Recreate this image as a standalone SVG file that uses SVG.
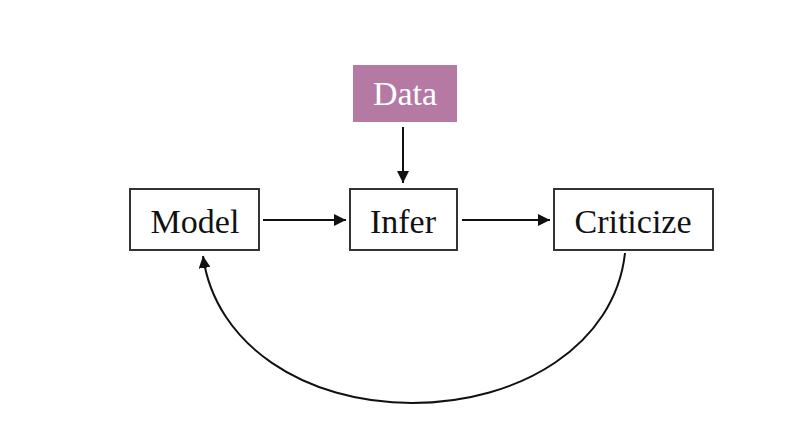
<svg xmlns="http://www.w3.org/2000/svg" width="800" height="426" viewBox="0 0 800 426">
<style>
.box{fill:#fff;stroke:#333;stroke-width:2}
.lbl{font-family:"Liberation Serif","DejaVu Serif",serif;font-size:34px;fill:#111;text-anchor:middle}
.edge{fill:none;stroke:#111;stroke-width:2}
</style>
<defs>
<marker id="ah" viewBox="0 0 10 10" refX="10" refY="5" markerWidth="12" markerHeight="12" markerUnits="userSpaceOnUse" orient="auto">
<path d="M0,0 L10,5 L0,10 z" fill="#111"/>
</marker>
</defs>
<rect width="800" height="426" fill="#fff"/>
<g id="data">
<rect x="353" y="65" width="104" height="57" fill="#b47aa3"/>
<text x="405" y="105" class="lbl" style="fill:#fff">Data</text>
</g>
<g id="model">
<rect x="130" y="189" width="129" height="61" class="box"/>
<text x="195" y="233" class="lbl">Model</text>
</g>
<g id="infer">
<rect x="350" y="189" width="107" height="61" class="box"/>
<text x="403" y="233" class="lbl">Infer</text>
</g>
<g id="criticize">
<rect x="554" y="189" width="159" height="61" class="box"/>
<text x="633" y="233" class="lbl">Criticize</text>
</g>
<g id="connectors">
<path class="edge" d="M403,127 L403,183" marker-end="url(#ah)"/>
<path class="edge" d="M263,220 L346,220" marker-end="url(#ah)"/>
<path class="edge" d="M462,220 L550,220" marker-end="url(#ah)"/>
<path class="edge" d="M625,253 C615,345 520,403 412,403 C305,403 215,345 203,256" marker-end="url(#ah)"/>
</g>
</svg>
